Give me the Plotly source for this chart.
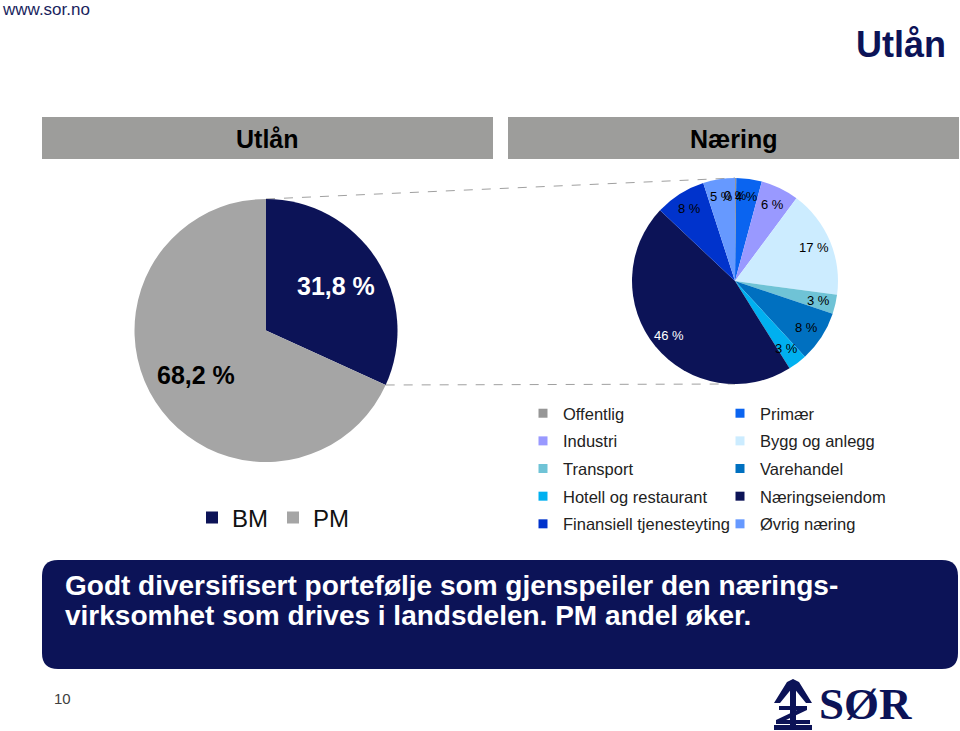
import math
import plotly.graph_objects as go

# ---------------- data ----------------
utlan_labels = ["BM", "PM"]
utlan_values = [31.8, 68.2]

naering_labels = ["Offentlig", "Primær", "Industri", "Bygg og anlegg", "Transport",
                  "Varehandel", "Hotell og restaurant", "Næringseiendom",
                  "Finansiell tjenesteyting", "Øvrig næring"]
naering_values = [0.2, 4, 6, 17, 3, 8, 3, 46, 8, 5]

legend_col1 = ["Offentlig", "Industri", "Transport", "Hotell og restaurant", "Finansiell tjenesteyting"]
legend_col2 = ["Primær", "Bygg og anlegg", "Varehandel", "Næringseiendom", "Øvrig næring"]

headline = "Utlån"
panel_titles = ["Utlån", "Næring"]
message_lines = ["Godt diversifisert portefølje som gjenspeiler den nærings-",
                 "virksomhet som drives i landsdelen. PM andel øker."]

# ---------------- styles ----------------
NAVY = "#0C1357"
GRAY = "#A5A5A5"
HEADER_GRAY = "#9D9D9B"
utlan_colors = [NAVY, GRAY]
naering_colors = {
    "Offentlig": "#969696",
    "Primær": "#0A64F0",
    "Industri": "#9999FF",
    "Bygg og anlegg": "#CCECFF",
    "Transport": "#6FC3D6",
    "Varehandel": "#0070C0",
    "Hotell og restaurant": "#00B0F0",
    "Næringseiendom": NAVY,
    "Finansiell tjenesteyting": "#0033CC",
    "Øvrig næring": "#6699FF",
}
FONT = "Arial, Liberation Sans, sans-serif"

W, H = 960, 731
L_CX, L_CY, L_R = 266, 330.5, 131.5
R_CX, R_CY, R_R = 735, 281, 103


def px(x):
    return x / W


def py(y):
    return 1 - y / H


def label_positions(cx, cy, r, values, frac):
    total = sum(values)
    cum = 0
    out = []
    for v in values:
        mid = (cum + v / 2) / total * 2 * math.pi
        out.append((cx + frac * r * math.sin(mid), cy - frac * r * math.cos(mid)))
        cum += v
    return out


def lum(hexcol):
    h = hexcol.lstrip("#")
    r, g, b = (int(h[i:i + 2], 16) / 255 for i in (0, 2, 4))
    return 0.2126 * r + 0.7152 * g + 0.0722 * b


def note(x, y, text, size, color, family=FONT, xanchor="center", yanchor="middle"):
    return dict(x=px(x), y=py(y), xref="paper", yref="paper", text=text, showarrow=False,
                font=dict(family=family, size=size, color=color),
                xanchor=xanchor, yanchor=yanchor)


fig = go.Figure()

# Utlån pie
fig.add_trace(go.Pie(
    labels=utlan_labels, values=utlan_values, sort=False, direction="clockwise",
    marker=dict(colors=utlan_colors, line=dict(width=0)),
    textinfo="none", hoverinfo="label+percent",
    domain=dict(x=[px(L_CX - L_R), px(L_CX + L_R)], y=[py(L_CY + L_R), py(L_CY - L_R)]),
    showlegend=True, legend="legend",
))

# Næring pie
fig.add_trace(go.Pie(
    labels=naering_labels, values=naering_values, sort=False, direction="clockwise",
    marker=dict(colors=[naering_colors[l] for l in naering_labels], line=dict(width=0)),
    textinfo="none", hoverinfo="label+percent",
    domain=dict(x=[px(R_CX - R_R), px(R_CX + R_R)], y=[py(R_CY + R_R), py(R_CY - R_R)]),
    showlegend=False,
))

# Næring legend entries (two columns)
for col, lg in ((legend_col1, "legend2"), (legend_col2, "legend3")):
    for lab in col:
        fig.add_trace(go.Scatter(
            x=[None], y=[None], mode="markers", name=lab, legend=lg, legendgroup=lab,
            marker=dict(symbol="square", size=9, color=naering_colors[lab]),
            hoverinfo="skip", showlegend=True,
        ))

annotations = []

# pie labels
u_total = sum(utlan_values)
for (x, y), v, c in zip(label_positions(L_CX, L_CY, L_R, utlan_values, 0.63), utlan_values, utlan_colors):
    txt = f"{v:.1f}".replace(".", ",") + " %"
    annotations.append(note(x, y, f"<b>{txt}</b>", 25, "white" if lum(c) < 0.12 else "black"))
n_total = sum(naering_values)
for (x, y), v, lab in zip(label_positions(R_CX, R_CY, R_R, naering_values, 0.83), naering_values, naering_labels):
    txt = f"{round(v / n_total * 100)} %"
    c = naering_colors[lab]
    annotations.append(note(x, y, txt, 13, "white" if lum(c) < 0.12 else "black"))

# headers
annotations.append(note(267.5, 139, f"<b>{panel_titles[0]}</b>", 25, "black"))
annotations.append(note(733.5, 139, f"<b>{panel_titles[1]}</b>", 25, "black"))
# title
annotations.append(note(948, 44, f"<b>{headline}</b>", 36, NAVY, xanchor="right"))
# url
annotations.append(note(0, 9, "www.sor.no", 17, "#1A1F5E", xanchor="left"))
# message box text
annotations.append(note(63, 585, f"<b>{message_lines[0]}</b>", 28, "white", xanchor="left"))
annotations.append(note(63, 615, f"<b>{message_lines[1]}</b>", 28, "white", xanchor="left"))
# page number
annotations.append(note(62, 698, "10", 15, "#404040"))
# logo text
annotations.append(note(817, 731, "<b>SØR</b>", 45, NAVY,
                        family="Liberation Serif, DejaVu Serif, serif", xanchor="left", yanchor="bottom"))

shapes = []
# header bars
shapes.append(dict(type="rect", xref="paper", yref="paper", x0=px(42), x1=px(493), y0=py(159), y1=py(117),
                   fillcolor=HEADER_GRAY, line=dict(width=0), layer="below"))
shapes.append(dict(type="rect", xref="paper", yref="paper", x0=px(508), x1=px(959), y0=py(159), y1=py(117),
                   fillcolor=HEADER_GRAY, line=dict(width=0), layer="below"))

# connector lines (from pie geometry)
bm_angle = utlan_values[0] / u_total * 2 * math.pi
ex = L_CX + L_R * math.sin(bm_angle)
ey = L_CY - L_R * math.cos(bm_angle)
shapes.append(dict(type="line", xref="paper", yref="paper", x0=px(L_CX), y0=py(L_CY - L_R),
                   x1=px(R_CX), y1=py(R_CY - R_R), line=dict(color="#A0A0A0", width=1, dash="dash"), layer="below"))
shapes.append(dict(type="line", xref="paper", yref="paper", x0=px(ex), y0=py(ey),
                   x1=px(R_CX), y1=py(R_CY + R_R), line=dict(color="#A0A0A0", width=1, dash="dash"), layer="below"))

# message box (rounded)
bx0, bx1, by0, by1, rr = 42, 958, 560, 669, 16
path = (f"M {px(bx0 + rr)} {py(by0)} L {px(bx1 - rr)} {py(by0)} "
        f"Q {px(bx1)} {py(by0)} {px(bx1)} {py(by0 + rr)} L {px(bx1)} {py(by1 - rr)} "
        f"Q {px(bx1)} {py(by1)} {px(bx1 - rr)} {py(by1)} L {px(bx0 + rr)} {py(by1)} "
        f"Q {px(bx0)} {py(by1)} {px(bx0)} {py(by1 - rr)} L {px(bx0)} {py(by0 + rr)} "
        f"Q {px(bx0)} {py(by0)} {px(bx0 + rr)} {py(by0)} Z")
shapes.append(dict(type="path", xref="paper", yref="paper", path=path, fillcolor=NAVY,
                   line=dict(width=0), layer="below"))


# logo symbol (simplified)
def P(pts):
    return "M " + " L ".join(f"{px(x)} {py(y)}" for x, y in pts) + " Z"


logo_parts = [
    [(793, 679), (799, 682), (812, 703), (806, 703), (793, 687), (780, 703), (774, 703), (787, 682)],
    [(790, 686), (796, 686), (796, 726), (790, 726)],
    [(779, 706), (807, 706), (807, 710), (786, 720), (810, 720), (810, 724), (776, 724), (776, 720), (797, 710), (779, 710)],
    [(774, 725), (812, 725), (812, 730), (774, 730)],
]
for pts in logo_parts:
    shapes.append(dict(type="path", xref="paper", yref="paper", path=P(pts), fillcolor=NAVY,
                       line=dict(width=0), layer="above"))

fig.update_layout(
    width=W, height=H, autosize=False,
    template="none",
    paper_bgcolor="white", plot_bgcolor="rgba(0,0,0,0)",
    margin=dict(l=0, r=0, t=0, b=0, pad=0, autoexpand=False),
    xaxis=dict(visible=False, range=[0, 1]), yaxis=dict(visible=False, range=[0, 1]),
    font=dict(family=FONT, color="#222222"),
    legend=dict(orientation="h", x=px(192), y=py(518), xanchor="left", yanchor="middle",
                font=dict(family=FONT, size=24, color="#111111"), bgcolor="rgba(0,0,0,0)",
                traceorder="normal"),
    legend2=dict(orientation="v", x=px(523), y=py(396), xanchor="left", yanchor="top",
                 font=dict(family=FONT, size=16.5, color="#222222"), bgcolor="rgba(0,0,0,0)",
                 traceorder="grouped", tracegroupgap=3.2),
    legend3=dict(orientation="v", x=px(720), y=py(396), xanchor="left", yanchor="top",
                 font=dict(family=FONT, size=16.5, color="#222222"), bgcolor="rgba(0,0,0,0)",
                 traceorder="grouped", tracegroupgap=3.2),
    annotations=annotations,
    shapes=shapes,
    showlegend=True,
)

fig.write_html("out.html", config={"displayModeBar": False},
               post_script="document.body.style.margin='0';")
